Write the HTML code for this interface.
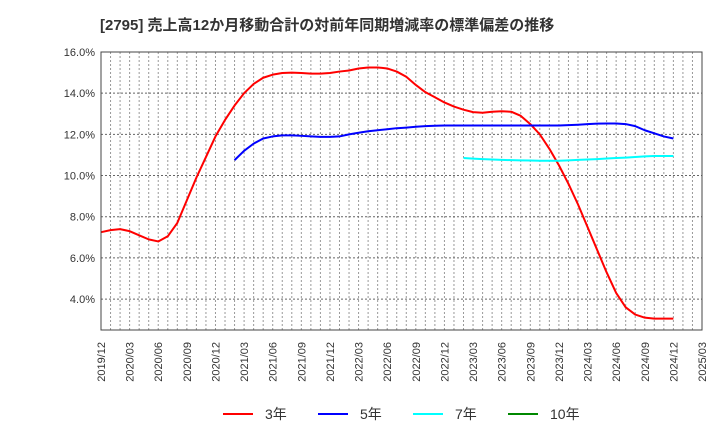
<!DOCTYPE html>
<html><head><meta charset="utf-8"><style>
body{margin:0;background:#fff;}
svg text{font-family:"Liberation Sans","Noto Sans CJK JP",sans-serif;fill:#333;}
</style></head><body>
<svg id="c" width="720" height="440">
<text x="100" y="30" font-size="15" font-weight="bold">[2795]  売上高12か月移動合計の対前年同期増減率の標準偏差の推移</text>
<g id="grid"></g><g id="series"></g><g id="axes"></g>
<g>
<line x1="223" y1="414" x2="253" y2="414" stroke="#f00" stroke-width="2"/><text x="265" y="419" font-size="14">3年</text>
<line x1="318" y1="414" x2="348" y2="414" stroke="#00f" stroke-width="2"/><text x="360" y="419" font-size="14">5年</text>
<line x1="413" y1="414" x2="443" y2="414" stroke="#0ff" stroke-width="2"/><text x="455" y="419" font-size="14">7年</text>
<line x1="508" y1="414" x2="538" y2="414" stroke="#080" stroke-width="2"/><text x="550" y="419" font-size="14">10年</text>
</g>
</svg>
<script>
const yTicks=[4,6,8,10,12,14,16];
const red=[7.25,7.35,7.4,7.3,7.1,6.9,6.8,7.05,7.7,8.8,9.9,10.9,11.9,12.7,13.4,14.0,14.45,14.75,14.9,14.98,15.0,14.98,14.95,14.95,14.98,15.05,15.1,15.2,15.25,15.25,15.2,15.05,14.8,14.4,14.05,13.8,13.55,13.35,13.2,13.08,13.05,13.1,13.12,13.1,12.9,12.5,12.0,11.3,10.5,9.6,8.6,7.5,6.4,5.3,4.3,3.6,3.25,3.1,3.05,3.05,3.05];
const redStart=0;
const blue=[10.75,11.2,11.55,11.8,11.9,11.95,11.95,11.93,11.9,11.88,11.88,11.9,12.0,12.08,12.15,12.2,12.25,12.3,12.33,12.37,12.4,12.42,12.43,12.43,12.43,12.43,12.43,12.43,12.43,12.43,12.43,12.43,12.43,12.43,12.43,12.45,12.47,12.5,12.52,12.53,12.53,12.5,12.4,12.2,12.05,11.9,11.8];
const blueStart=14;
const cyan=[10.85,10.82,10.8,10.78,10.76,10.75,10.74,10.73,10.72,10.72,10.72,10.74,10.76,10.78,10.8,10.83,10.85,10.87,10.9,10.93,10.95,10.95,10.95];
const cyanStart=38;
const months=64;
const X0=101,X1=702,Y0=52,Y1=330,YMIN=2.5,YMAX=16;
const x=i=>X0+i*(X1-X0)/(months-1);
const y=v=>Y1-(v-YMIN)/(YMAX-YMIN)*(Y1-Y0);
const NS="http://www.w3.org/2000/svg";
function mk(p,t,a){const e=document.createElementNS(NS,t);for(const k in a)e.setAttribute(k,a[k]);p.appendChild(e);return e;}
const g=document.getElementById('grid'),ax=document.getElementById('axes'),s=document.getElementById('series');
for(let i=1;i<months-1;i++){const l=mk(g,'line',{x1:x(i),x2:x(i),y1:Y0,y2:Y1,stroke:'#999','stroke-dasharray':'2,2','stroke-width':1});

}
yTicks.forEach(v=>{const l=mk(g,'line',{x1:X0,x2:X1,y1:y(v),y2:y(v),stroke:'#666','stroke-dasharray':'2,2','stroke-width':1});


const t=mk(ax,'text',{x:X0-6,y:y(v)+4,'text-anchor':'end','font-size':11});t.textContent=v.toFixed(1)+'%';

});
const r=mk(ax,'rect',{x:X0,y:Y0,width:X1-X0,height:Y1-Y0,fill:'none',stroke:'#444','stroke-width':1});


for(let i=0;i<months;i+=3){const yr=2019+Math.floor((11+i)/12),m=(11+i)%12+1;
const t=mk(ax,'text',{x:0,y:0,'text-anchor':'end','font-size':11,transform:`translate(${x(i)+4},342) rotate(-90)`});
t.textContent=yr+'/'+String(m).padStart(2,'0');

}
function line(d,st,c,n){const p=mk(s,'polyline',{points:d.map((v,i)=>x(st+i)+','+y(v)).join(' '),fill:'none',stroke:c,'stroke-width':2,'stroke-linejoin':'round'});

}
line(red,redStart,'#f00','series-3y');
line(blue,blueStart,'#00f','series-5y');
line(cyan,cyanStart,'#0ff','series-7y');
</script>
</body></html>
